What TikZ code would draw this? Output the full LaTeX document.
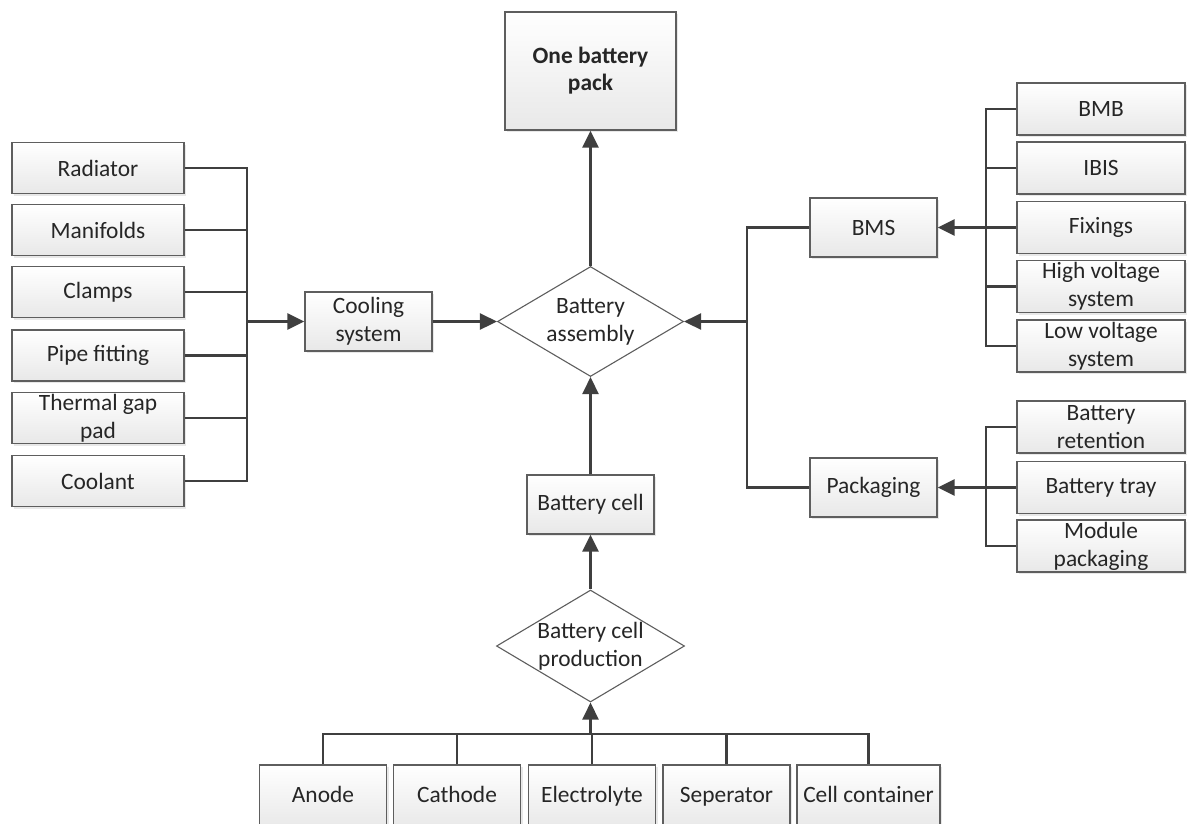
\documentclass[tikz,border=0pt]{standalone}
\usepackage{fontspec}
\setmainfont{Carlito}
\usetikzlibrary{shapes.geometric,arrows.meta,shadows}

\definecolor{linegray}{HTML}{3F3F3F}
\definecolor{boxgray}{HTML}{5E5E5E}

\begin{document}
\begin{tikzpicture}[x=1pt, y=-1pt,
    box/.style = {draw=boxgray, line width=1.3pt, top color=white, bottom color=gray!18, align=center, inner sep=0pt, text=black!85, font=\fontsize{23.4}{28}\selectfont, drop shadow={opacity=0.18, shadow xshift=2pt, shadow yshift=-2pt}},
    lbox/.style = {box, minimum width=172pt, minimum height=51pt},
    rbox/.style = {box, minimum width=168pt, minimum height=52pt},
    mbox/.style = {box, minimum width=127pt, minimum height=59pt},
    bbox/.style = {box, minimum width=127pt, minimum height=64pt, text height=16pt, text depth=5pt},
    dia/.style = {draw=boxgray, line width=1.1pt, fill=white, diamond, aspect=1.7, inner sep=0pt, align=center, text=black!85, font=\fontsize{23.4}{28}\selectfont},
    conn/.style = {draw=linegray, line width=2.6pt},
    arr/.style = {conn, -{Triangle[length=17pt, width=16pt]}}]

    \useasboundingbox (0,0) rectangle (1189,823);
    \clip (0,0) rectangle (1189,823);

    % Hauptknoten in der Mitte
    \node[box, minimum width=171pt, minimum height=118pt, font=\bfseries\fontsize{23.4}{27}\selectfont] (pack) at (590.5,71) {One battery\\pack};
    \node[dia, minimum width=186pt, minimum height=110pt] (asm) at (590.5,321.5) {Battery\\assembly};
    \node[mbox] (cell) at (590.5,504.5) {Battery cell};
    \node[dia, minimum width=187pt, minimum height=112pt] (prod) at (590.5,646) {Battery cell\\production};
    \node[mbox] (cool) at (368.5,321.5) {Cooling\\system};
    \node[mbox] (bms) at (873.5,227.5) {BMS};
    \node[mbox] (pkg) at (873.5,487.5) {Packaging};

    % Kuehlung (links)
    \node[lbox] (rad) at (98,168) {Radiator};
    \node[lbox] (man) at (98,230) {Manifolds};
    \node[lbox] (clamp) at (98,292) {Clamps};
    \node[lbox] (pipe) at (98,355.5) {Pipe fitting};
    \node[lbox] (gap) at (98,418) {Thermal gap\\pad};
    \node[lbox] (coolant) at (98,481) {Coolant};

    % BMS und Packaging (rechts)
    \node[rbox] (bmb) at (1101,109) {BMB};
    \node[rbox] (ibis) at (1101,168) {IBIS};
    \node[rbox] (fix) at (1101,227.5) {Fixings};
    \node[rbox] (hv) at (1101,286.5) {High voltage\\system};
    \node[rbox] (lv) at (1101,346) {Low voltage\\system};
    \node[rbox] (ret) at (1101,427) {Battery\\retention};
    \node[rbox] (tray) at (1101,487.5) {Battery tray};
    \node[rbox] (mod) at (1101,546) {Module\\packaging};

    % Zellbestandteile (unten)
    \node[bbox] (anode) at (323,797) {Anode};
    \node[bbox] (cathode) at (457,797) {Cathode};
    \node[bbox] (elec) at (592,797) {Electrolyte};
    \node[bbox] (sep) at (726.5,797) {Seperator};
    \node[bbox, minimum width=143pt] (cont) at (868.5,797) {Cell container};

    % Sammelpunkte
    \coordinate (lbus) at (247,321.5);
    \coordinate (rbus) at (747,321.5);
    \coordinate (bmsbus) at (986,227.5);
    \coordinate (pkgbus) at (986,487.5);
    \coordinate (bbus) at (590.5,734);

    % Verbindungen links
    \draw[conn] (rad.east) -| (lbus);
    \draw[conn] (man.east) -| (lbus);
    \draw[conn] (clamp.east) -| (lbus);
    \draw[conn] (pipe.east) -| (lbus);
    \draw[conn] (gap.east) -| (lbus);
    \draw[conn] (coolant.east) -| (lbus);
    \draw[arr] (lbus) -- (cool.west);
    \draw[arr] (cool.east) -- (asm.west);

    % Verbindungen rechts
    \draw[conn] (bmb.west) -| (bmsbus);
    \draw[conn] (ibis.west) -| (bmsbus);
    \draw[conn] (fix.west) -| (bmsbus);
    \draw[conn] (hv.west) -| (bmsbus);
    \draw[conn] (lv.west) -| (bmsbus);
    \draw[arr] (bmsbus) -- (bms.east);
    \draw[conn] (ret.west) -| (pkgbus);
    \draw[conn] (tray.west) -| (pkgbus);
    \draw[conn] (mod.west) -| (pkgbus);
    \draw[arr] (pkgbus) -- (pkg.east);
    \draw[conn] (bms.west) -| (rbus);
    \draw[conn] (pkg.west) -| (rbus);
    \draw[arr] (rbus) -- (asm.east);

    % Verbindungen unten und Mitte
    \draw[conn] (anode.north) |- (bbus);
    \draw[conn] (cathode.north) |- (bbus);
    \draw[conn] (elec.north) |- (bbus);
    \draw[conn] (sep.north) |- (bbus);
    \draw[conn] (cont.north) |- (bbus);
    \draw[arr] (bbus) -- (prod.south);
    \draw[arr] (prod.north) -- (cell.south);
    \draw[arr] (cell.north) -- (asm.south);
    \draw[arr] (asm.north) -- (pack.south);

\end{tikzpicture}
\end{document}
